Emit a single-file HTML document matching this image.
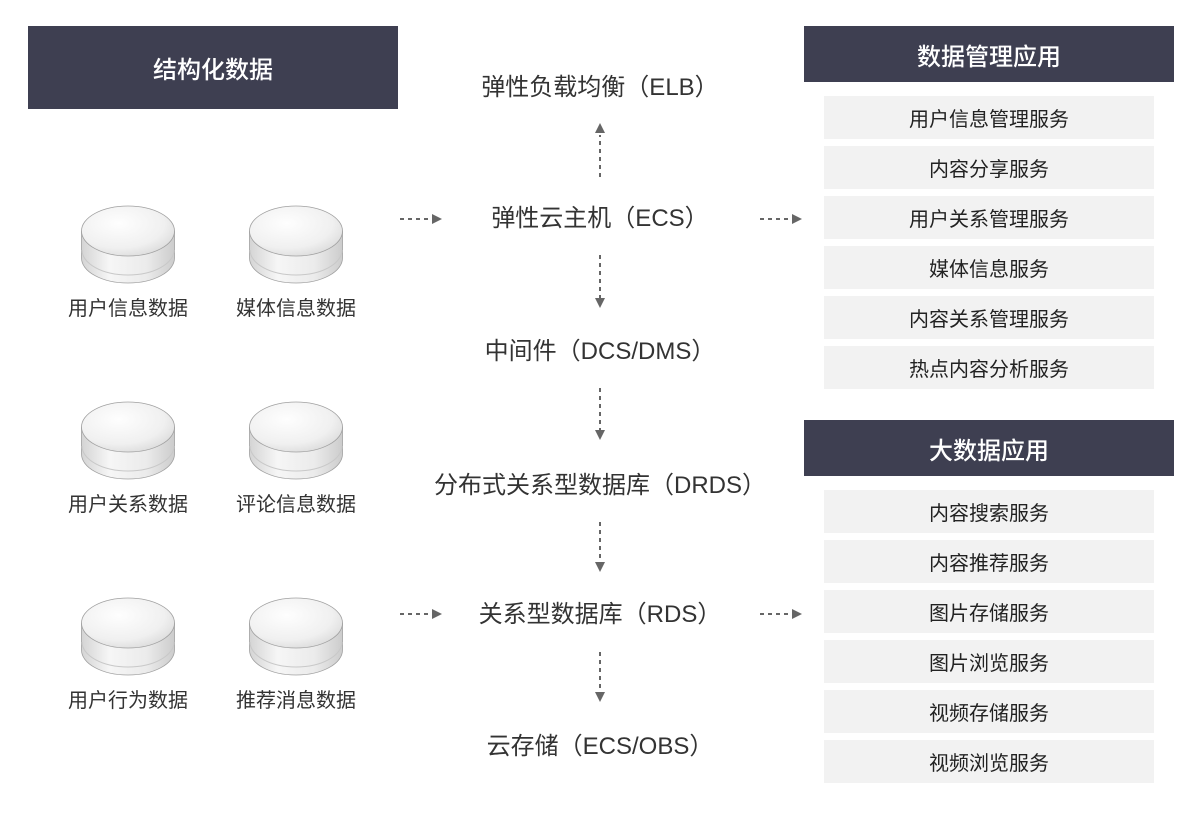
<!DOCTYPE html>
<html><head><meta charset="utf-8"><style>
body{margin:0;width:1200px;height:832px;background:#fff;position:relative;overflow:hidden;font-family:"Liberation Sans","Noto Sans CJK SC",sans-serif;color:#333}
.a{position:absolute}
.hd{position:absolute;background:#3e3f51;color:#fff;display:flex;align-items:center;justify-content:center;font-size:24px;font-weight:500}
.sv{position:absolute;left:824px;width:330px;height:43px;background:#f2f2f2;display:flex;align-items:center;justify-content:center;font-size:20px;color:#222}
.c{position:absolute;left:350px;width:500px;text-align:center;font-size:24px;color:#333;line-height:30px}
.l{position:absolute;width:160px;text-align:center;font-size:20px;color:#333;line-height:24px}
</style></head><body>
<div class="hd" style="left:28px;top:26px;width:370px;height:83px">结构化数据</div>
<div class="hd" style="left:804px;top:26px;width:370px;height:56px">数据管理应用</div>
<div class="hd" style="left:804px;top:420px;width:370px;height:56px">大数据应用</div>

<div class="sv" style="top:96px">用户信息管理服务</div>
<div class="sv" style="top:146px">内容分享服务</div>
<div class="sv" style="top:196px">用户关系管理服务</div>
<div class="sv" style="top:246px">媒体信息服务</div>
<div class="sv" style="top:296px">内容关系管理服务</div>
<div class="sv" style="top:346px">热点内容分析服务</div>
<div class="sv" style="top:490px">内容搜索服务</div>
<div class="sv" style="top:540px">内容推荐服务</div>
<div class="sv" style="top:590px">图片存储服务</div>
<div class="sv" style="top:640px">图片浏览服务</div>
<div class="sv" style="top:690px">视频存储服务</div>
<div class="sv" style="top:740px">视频浏览服务</div>

<div class="c" style="top:73px">弹性负载均衡（ELB）</div>
<div class="c" style="top:204px">弹性云主机（ECS）</div>
<div class="c" style="top:337px">中间件（DCS/DMS）</div>
<div class="c" style="top:471px">分布式关系型数据库（DRDS）</div>
<div class="c" style="top:600px">关系型数据库（RDS）</div>
<div class="c" style="top:732px">云存储（ECS/OBS）</div>

<div class="l" style="left:48px;top:297px">用户信息数据</div>
<div class="l" style="left:216px;top:297px">媒体信息数据</div>
<div class="l" style="left:48px;top:493px">用户关系数据</div>
<div class="l" style="left:216px;top:493px">评论信息数据</div>
<div class="l" style="left:48px;top:689px">用户行为数据</div>
<div class="l" style="left:216px;top:689px">推荐消息数据</div>

<svg class="a" style="left:0;top:0" width="1200" height="832">
<defs>
<radialGradient id="tg" cx="0.4" cy="0.35" r="0.7"><stop offset="0" stop-color="#fefefe"/><stop offset="0.7" stop-color="#f0f0f0"/><stop offset="1" stop-color="#dcdcdc"/></radialGradient>
<linearGradient id="sg" x1="0" x2="1"><stop offset="0" stop-color="#d4d4d4"/><stop offset="0.3" stop-color="#f6f6f6"/><stop offset="0.7" stop-color="#ebebeb"/><stop offset="1" stop-color="#cccccc"/></linearGradient>
<g id="disk">
<path d="M-46.5,0 L-46.5,27 A46.5,25 0 0 0 46.5,27 L46.5,0 Z" fill="url(#sg)" stroke="#a0a0a0" stroke-width="0.8"/>
<path d="M-46,19 A46,25 0 0 0 46,19" fill="none" stroke="#c8c8c8"/>
<ellipse cx="0" cy="0" rx="46.5" ry="25" fill="url(#tg)" stroke="#a0a0a0" stroke-width="0.8"/>
</g>
</defs>
<use href="#disk" x="128" y="231"/><use href="#disk" x="296" y="231"/>
<use href="#disk" x="128" y="427"/><use href="#disk" x="296" y="427"/>
<use href="#disk" x="128" y="623"/><use href="#disk" x="296" y="623"/>
<g stroke="#666" stroke-width="2" stroke-dasharray="4,4" fill="none">
<line x1="600" y1="177" x2="600" y2="135"/>
<line x1="600" y1="255" x2="600" y2="298"/>
<line x1="600" y1="388" x2="600" y2="430"/>
<line x1="600" y1="522" x2="600" y2="562"/>
<line x1="600" y1="652" x2="600" y2="692"/>
<line x1="400" y1="219" x2="432" y2="219"/>
<line x1="760" y1="219" x2="792" y2="219"/>
<line x1="400" y1="614" x2="432" y2="614"/>
<line x1="760" y1="614" x2="792" y2="614"/>
</g>
<g fill="#666">
<path d="M600,123 L595,133 L605,133 Z"/>
<path d="M600,308 L595,298 L605,298 Z"/>
<path d="M600,440 L595,430 L605,430 Z"/>
<path d="M600,572 L595,562 L605,562 Z"/>
<path d="M600,702 L595,692 L605,692 Z"/>
<path d="M442,219 L432,214 L432,224 Z"/>
<path d="M802,219 L792,214 L792,224 Z"/>
<path d="M442,614 L432,609 L432,619 Z"/>
<path d="M802,614 L792,609 L792,619 Z"/>
</g>
</svg>
</body></html>
